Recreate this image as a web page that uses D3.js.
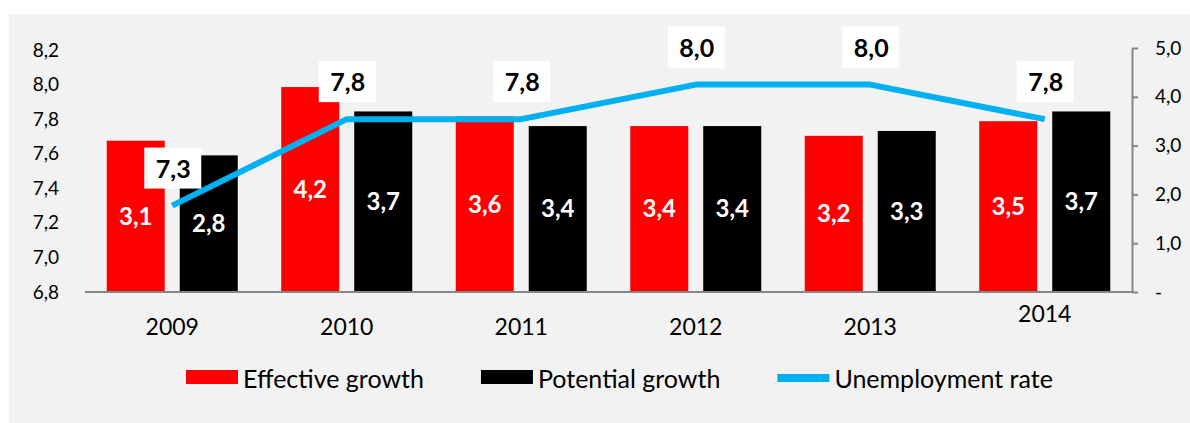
<!DOCTYPE html>
<html>
<head>
<meta charset="utf-8">
<script src="https://cdn.jsdelivr.net/npm/d3@7"></script>
<style>
  body { margin: 0; background: #ffffff; }
  svg { display: block; font-family: Lato, "Open Sans", sans-serif; }
</style>
</head>
<body>
<svg id="chart" width="1190" height="423"></svg>
<script>
// chart values
const years = ["2009", "2010", "2011", "2012", "2013", "2014"];
const effectiveGrowth = [3.1, 4.2, 3.6, 3.4, 3.2, 3.5];
const potentialGrowth = [2.8, 3.7, 3.4, 3.4, 3.3, 3.7];
const unemploymentRate = [7.3, 7.8, 7.8, 8.0, 8.0, 7.8];
const leftTicks = [6.8, 7.0, 7.2, 7.4, 7.6, 7.8, 8.0, 8.2];
const rightTicks = [0, 1, 2, 3, 4, 5];
const seriesNames = ["Effective growth", "Potential growth", "Unemployment rate"];

const colors = {
  effective: "#ff0000",
  potential: "#000000",
  unemployment: "#00b0f0",
  axis: "#868686",
};

const margin = { left: 85, right: 1132, top: 48, bottom: 292 };

const svg = d3.select("#chart");

// background panel
svg.append("rect")
  .attr("x", 9).attr("y", 14)
  .attr("width", 1181).attr("height", 409)
  .attr("fill", "#f2f2f2");

const fmt = d3.formatLocale({ decimal: ",", thousands: ".", grouping: [3], currency: ["", ""] }).format(".1f");

const x = d3.scaleBand().domain(years).range([margin.left, margin.right]);
const xSub = d3.scaleBand()
  .domain(["effective", "potential"])
  .range([0, x.bandwidth()])
  .paddingInner(0.205)
  .paddingOuter(0.298);

const yLeft = d3.scaleLinear().domain([6.8, 8.2]).range([292, 50]);
const yRight = d3.scaleLinear().domain([0, 5]).range([292, 48]);

const rows = years.map((y, i) => ({
  year: y,
  effective: effectiveGrowth[i],
  potential: potentialGrowth[i],
  unemployment: unemploymentRate[i],
}));

// bars
const groups = svg.append("g").selectAll("g")
  .data(rows)
  .join("g")
  .attr("transform", d => `translate(${x(d.year)},0)`);

["effective", "potential"].forEach(key => {
  groups.append("rect")
    .attr("x", xSub(key))
    .attr("width", xSub.bandwidth())
    .attr("y", d => yRight(d[key]))
    .attr("height", d => yRight(0) - yRight(d[key]))
    .attr("fill", colors[key]);

  groups.append("text")
    .attr("x", xSub(key) + xSub.bandwidth() / 2)
    .attr("y", d => (yRight(d[key]) + yRight(0)) / 2)
    .attr("dy", "0.35em")
    .attr("text-anchor", "middle")
    .attr("fill", "#ffffff")
    .style("font-weight", "bold")
    .style("font-size", "24px")
    .text(d => fmt(d[key]));
});

// baseline
svg.append("line")
  .attr("x1", margin.left).attr("x2", margin.right)
  .attr("y1", yRight(0)).attr("y2", yRight(0))
  .attr("stroke", colors.axis)
  .attr("stroke-width", 2);

// left axis (labels only)
const leftAxis = svg.append("g")
  .attr("transform", "translate(59,0)")
  .call(d3.axisLeft(yLeft).tickValues(leftTicks).tickSize(0).tickPadding(0).tickFormat(fmt));
leftAxis.select(".domain").remove();
leftAxis.selectAll("text")
  .attr("fill", "#000")
  .style("font-size", "19px")
  .style("font-family", "Lato, sans-serif");

// right axis
const rightAxis = svg.append("g")
  .attr("transform", `translate(${margin.right},0)`)
  .call(d3.axisRight(yRight).tickValues(rightTicks).tickSize(6).tickSizeOuter(0).tickPadding(17)
    .tickFormat(d => d === 0 ? "-" : fmt(d)));
rightAxis.select(".domain").attr("stroke", colors.axis).attr("stroke-width", 2);
rightAxis.selectAll(".tick line").attr("stroke", colors.axis).attr("stroke-width", 2);
rightAxis.selectAll("text")
  .attr("fill", "#000")
  .style("font-size", "19px")
  .style("font-family", "Lato, sans-serif");

// x labels
svg.append("g").selectAll("text")
  .data(years)
  .join("text")
  .attr("x", d => x(d) + x.bandwidth() / 2)
  .attr("y", (d, i) => i === years.length - 1 ? 322 : 335)
  .attr("text-anchor", "middle")
  .style("font-size", "23px")
  .text(d => d);

// unemployment line
const cx = d => x(d.year) + x.bandwidth() / 2;
svg.append("path")
  .datum(rows)
  .attr("fill", "none")
  .attr("stroke", colors.unemployment)
  .attr("stroke-width", 6)
  .attr("stroke-linejoin", "round")
  .attr("d", d3.line().x(cx).y(d => yLeft(d.unemployment)));

// line labels
const lbl = svg.append("g").selectAll("g")
  .data(rows)
  .join("g")
  .attr("transform", d => `translate(${cx(d)},${yLeft(d.unemployment) - 17})`);
lbl.append("rect")
  .attr("x", -28).attr("y", -41)
  .attr("width", 57).attr("height", 41)
  .attr("fill", "#ffffff");
lbl.append("text")
  .attr("x", 1)
  .attr("y", -11)
  .attr("text-anchor", "middle")
  .style("font-weight", "bold")
  .style("font-size", "25px")
  .text(d => fmt(d.unemployment));

// legend
const legend = svg.append("g").attr("transform", "translate(186,0)");
let lx = 0;
seriesNames.forEach((name, i) => {
  const key = ["effective", "potential", "unemployment"][i];
  if (key === "unemployment") {
    legend.append("rect").attr("x", lx).attr("y", 374).attr("width", 52).attr("height", 8).attr("fill", colors[key]);
  } else {
    legend.append("rect").attr("x", lx).attr("y", 370).attr("width", 52).attr("height", 14).attr("fill", colors[key]);
  }
  const t = legend.append("text")
    .attr("x", lx + 57)
    .attr("y", 388)
    .style("font-size", "25px")
    .text(name);
  lx += 57 + t.node().getComputedTextLength() + 57;
});
</script>
</body>
</html>
